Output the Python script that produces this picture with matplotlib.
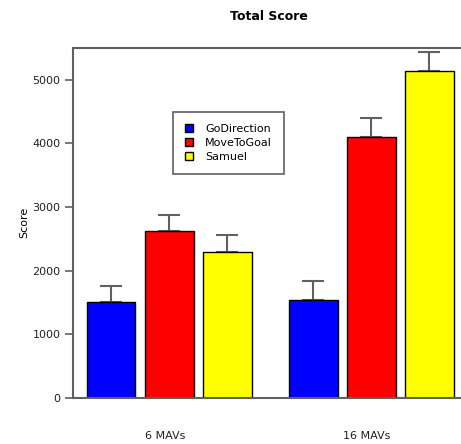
import numpy as np
import matplotlib.pyplot as plt

# Data
groups = ['6 MAVs', '16 MAVs']
series = ['GoDirection', 'MoveToGoal', 'Samuel']
colors = ['#0000ff', '#ff0000', '#ffff00']
scores = [
    [1512, 1543],  # GoDirection
    [2625, 4105],  # MoveToGoal
    [2299, 5145],  # Samuel
]
errors = [
    [242, 290],
    [252, 289],
    [252, 288],
]

plt.rcParams['font.family'] = ['DejaVu Sans']
gray = '#606060'

fig = plt.figure(figsize=(4.61, 4.44), dpi=100)
ax = fig.add_axes([0.1584, 0.1043, 0.8416, 0.7876])

x = np.arange(len(groups))
width = 0.24
pitch = 0.287
for i, name in enumerate(series):
    pos = x + (i - 1) * pitch
    ax.bar(pos, scores[i], width, color=colors[i], edgecolor='black',
           linewidth=1, label=name, zorder=2)
    ax.errorbar(pos, scores[i], yerr=[np.zeros(len(groups)), errors[i]],
                fmt='none', ecolor=gray, elinewidth=1.5, capsize=8,
                capthick=1.5, zorder=1)

ax.set_xlim(-0.476, 1.443)
ax.set_ylim(0, 5500)
ax.set_yticks([0, 1000, 2000, 3000, 4000, 5000])
ax.set_xticks(x - 0.022)
ax.set_xticklabels(groups)
ax.tick_params(axis='x', length=0, pad=24, labelsize=8, labelcolor='#202020')
ax.tick_params(axis='y', length=6, width=1.2, color=gray, pad=3,
               labelsize=8, labelcolor='#202020')

ax.spines['right'].set_visible(False)
for s in ['top', 'left', 'bottom']:
    ax.spines[s].set_color(gray)
    ax.spines[s].set_linewidth(1.5)

ax.set_ylabel('Score', fontsize=8, labelpad=2)
fig.text(0.584, 0.962, 'Total Score', ha='center', va='center',
         fontsize=9, fontweight='bold')

leg = ax.legend(loc='upper left', bbox_to_anchor=(0.258, 0.818), fontsize=8,
                fancybox=False, framealpha=1, edgecolor=gray,
                handlelength=0.7, handleheight=0.7, handletextpad=1.1,
                labelspacing=0.35, borderpad=1.1, borderaxespad=0)
leg.get_frame().set_linewidth(1.2)

fig.savefig('out.png', dpi=100)
